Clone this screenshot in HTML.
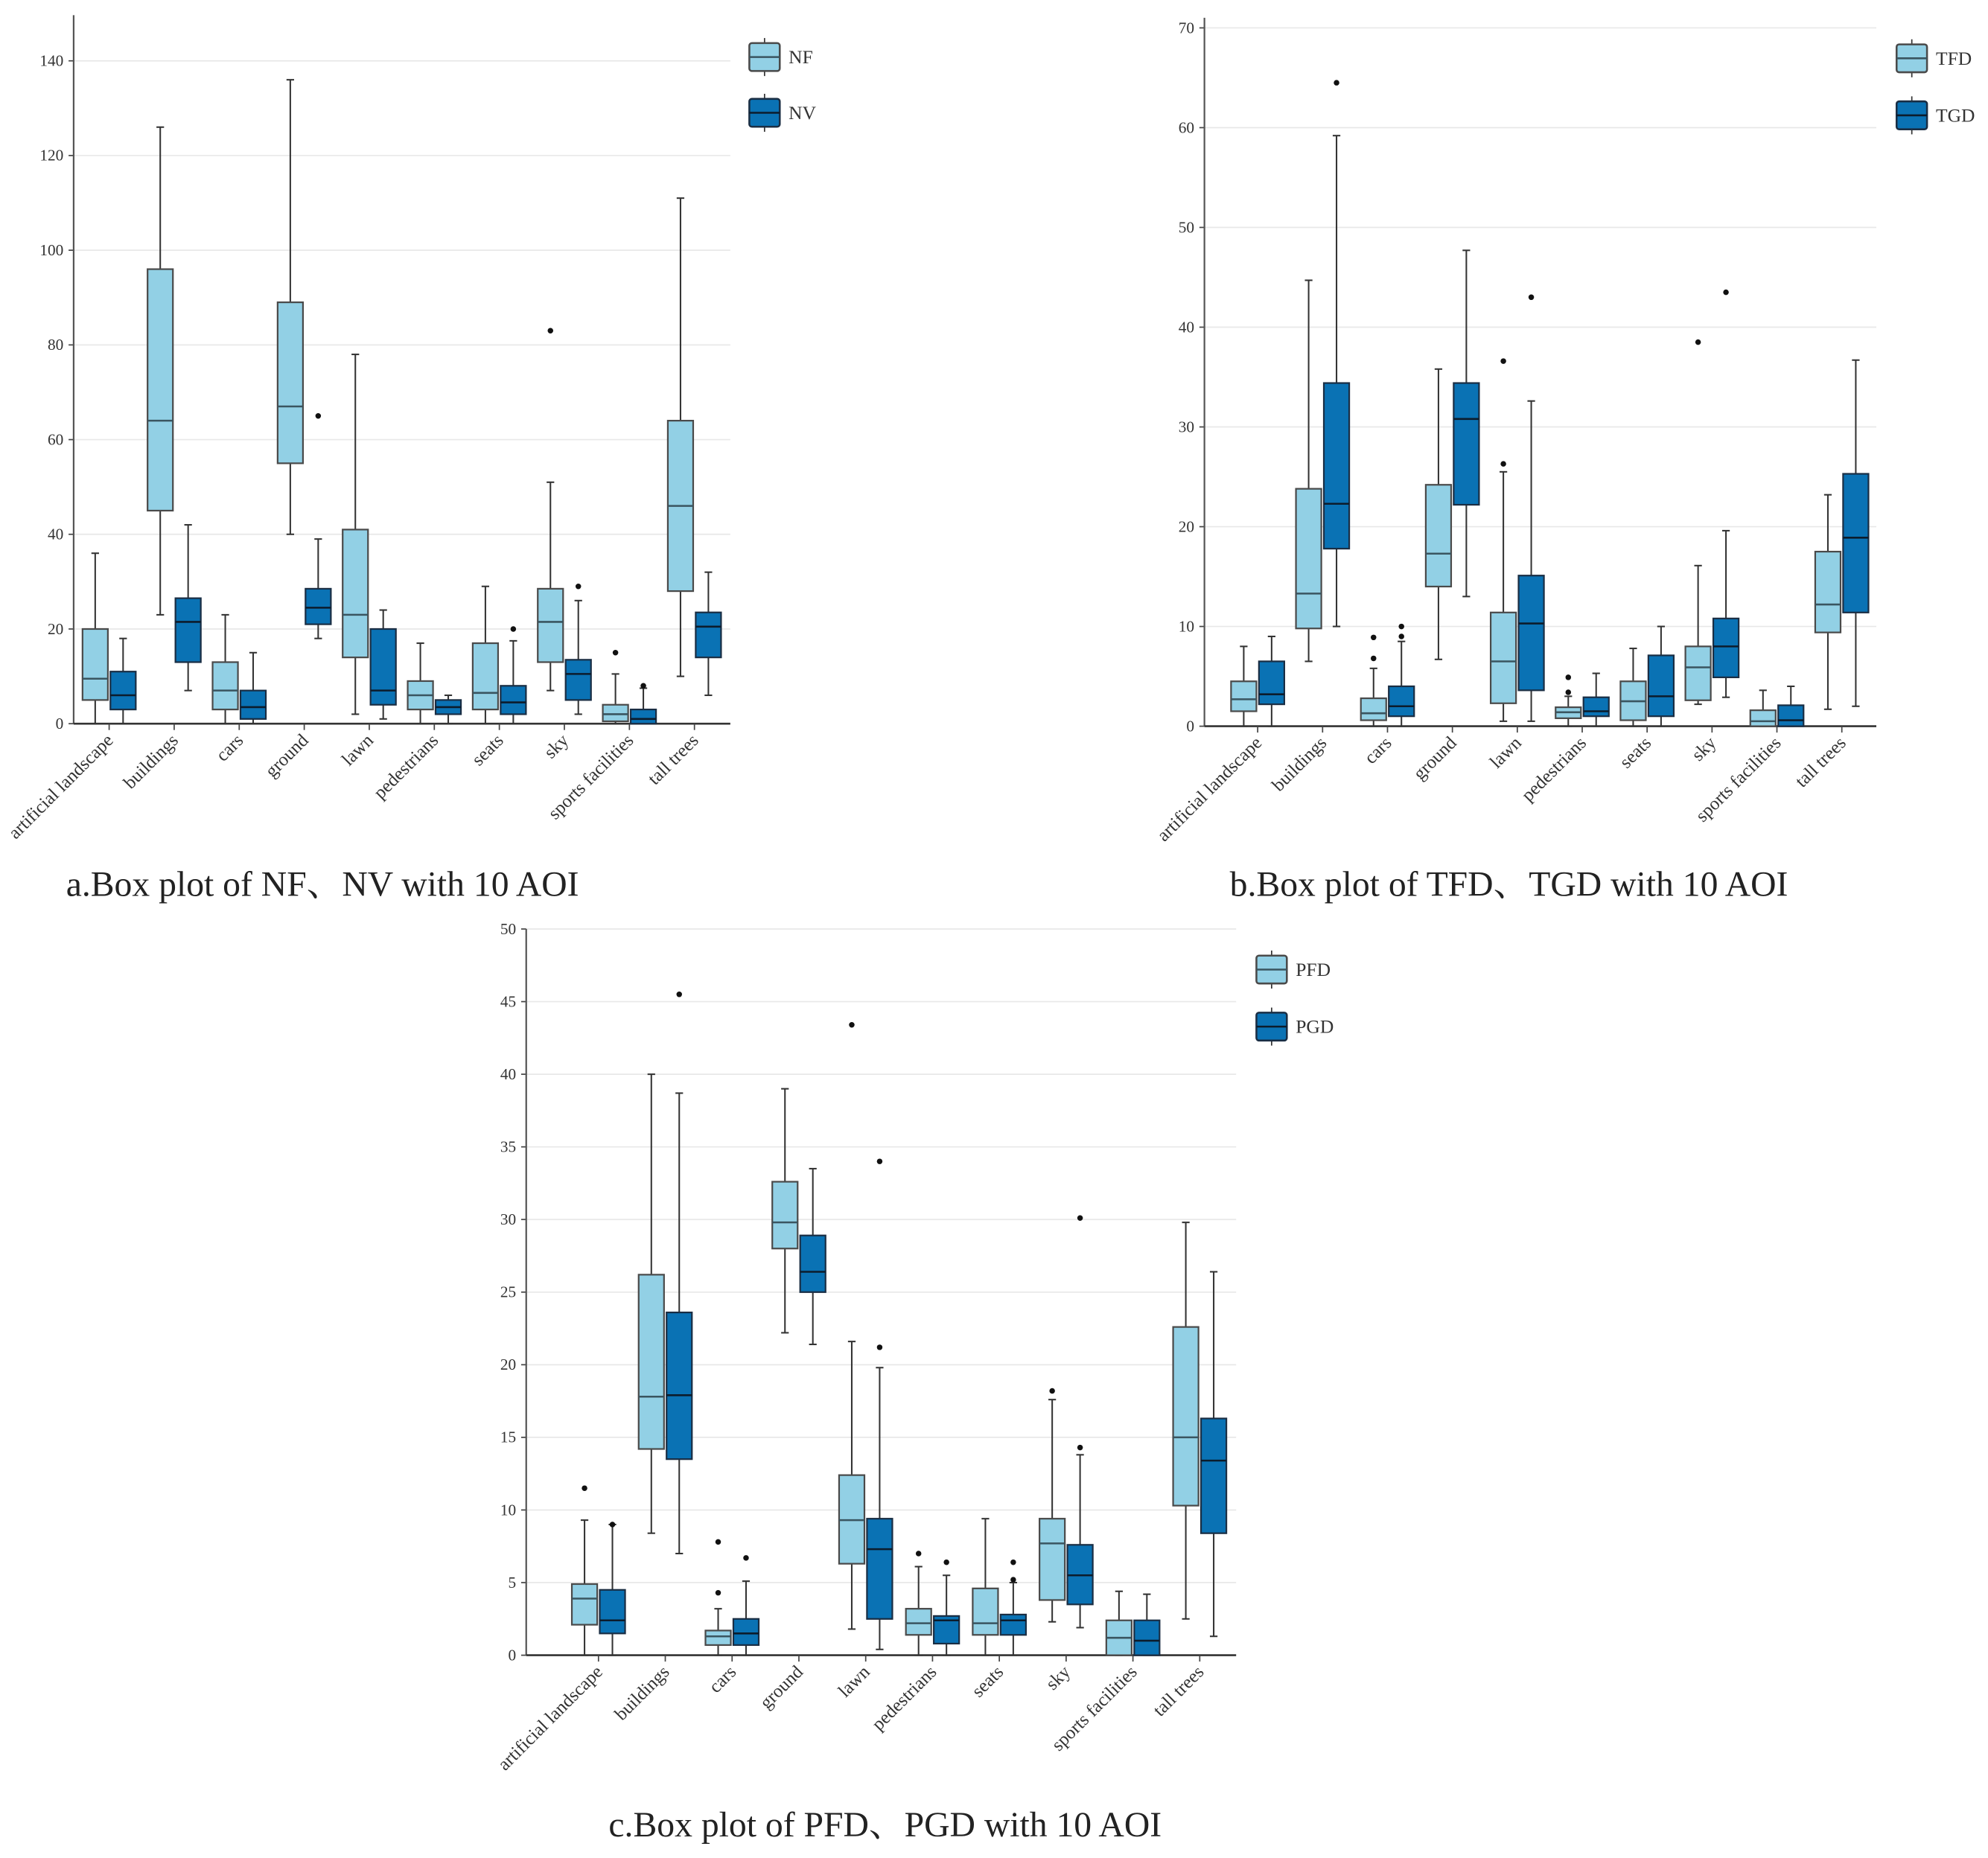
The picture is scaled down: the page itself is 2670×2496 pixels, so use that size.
<!DOCTYPE html>
<html><head><meta charset="utf-8"><style>
html,body{margin:0;padding:0;background:#fff;}
svg{display:block;font-family:"Liberation Serif",serif;}
</style></head><body>
<svg id="root" width="2670" height="2496" viewBox="0 0 1568 1466" xmlns="http://www.w3.org/2000/svg"></svg>
<script>
const categories = ["artificial landscape","buildings","cars","ground","lawn","pedestrians","seats","sky","sports facilities","tall trees"];
// each entry: [whiskerLow, q1, median, q3, whiskerHigh]
const nfStats = [[0,5,9.5,20,36],[23,45,64,96,126],[0,3,7,13,23],[40,55,67,89,136],[2,14,23,41,78],[0,3,6,9,17],[0,3,6.5,17,29],[7,13,21.5,28.5,51],[0,0.5,2,4,10.5],[10,28,46,64,111]];
const nfOut = [[],[],[],[],[],[],[],[83],[15],[]];
const nvStats = [[0,3,6,11,18],[7,13,21.5,26.5,42],[0,1,3.5,7,15],[18,21,24.5,28.5,39],[1,4,7,20,24],[0,2,3.5,5,6],[0,2,4.5,8,17.5],[2,5,10.5,13.5,26],[0,0,1,3,7.5],[6,14,20.5,23.5,32]];
const nvOut = [[],[],[],[65],[],[],[20],[29],[8],[]];
const tfdStats = [[0,1.5,2.7,4.5,8],[6.5,9.8,13.3,23.8,44.7],[0,0.6,1.3,2.8,5.8],[6.7,14,17.3,24.2,35.8],[0.5,2.3,6.5,11.4,25.5],[0,0.8,1.4,1.9,3],[0,0.6,2.5,4.5,7.8],[2.2,2.6,5.9,8,16.1],[0,0,0.5,1.6,3.6],[1.7,9.4,12.2,17.5,23.2]];
const tfdOut = [[],[],[6.8,8.9],[],[26.3,36.6],[3.4,4.9],[],[38.5],[],[]];
const tgdStats = [[0,2.2,3.2,6.5,9],[10,17.8,22.3,34.4,59.2],[0,1,2,4,8.5],[13,22.2,30.8,34.4,47.7],[0.5,3.6,10.3,15.1,32.6],[0,1,1.5,2.9,5.3],[0,1,3,7.1,10],[2.9,4.9,8,10.8,19.6],[0,0,0.6,2.1,4],[2,11.4,18.9,25.3,36.7]];
const tgdOut = [[],[64.5],[9,10],[],[43],[],[],[43.5],[],[]];
const pfdStats = [[0,2.1,3.9,4.9,9.3],[8.4,14.2,17.8,26.2,40],[0,0.7,1.3,1.7,3.2],[22.2,28,29.8,32.6,39],[1.8,6.3,9.3,12.4,21.6],[0,1.4,2.2,3.2,6.1],[0,1.4,2.2,4.6,9.4],[2.3,3.8,7.7,9.4,17.6],[0,0,1.2,2.4,4.4],[2.5,10.3,15,22.6,29.8]];
const pfdOut = [[11.5],[],[4.3,7.8],[],[43.4],[7],[],[18.2],[],[]];
const pgdStats = [[0,1.5,2.4,4.5,9],[7,13.5,17.9,23.6,38.7],[0,0.7,1.5,2.5,5.1],[21.4,25,26.4,28.9,33.5],[0.4,2.5,7.3,9.4,19.8],[0,0.8,2.4,2.7,5.5],[0,1.4,2.4,2.8,5],[1.9,3.5,5.5,7.6,13.8],[0,0,1,2.4,4.2],[1.3,8.4,13.4,16.3,26.4]];
const pgdOut = [[9],[45.5],[6.7],[],[21.2,34],[6.4],[5.2,6.4],[14.3,30.1],[],[]];
const ticksA = [0,20,40,60,80,100,120,140];
const ticksB = [0,10,20,30,40,50,60,70];
const ticksC = [0,5,10,15,20,25,30,35,40,45,50];

const NS="http://www.w3.org/2000/svg";
const root=document.getElementById('root');
function mk(tag,attrs,parent){const e=document.createElementNS(NS,tag);for(const k in attrs)e.setAttribute(k,attrs[k]);(parent||root).appendChild(e);return e;}

function chart(cfg){
  const g=mk('g',{});
  
  
  const y=v=>cfg.y0-(v-cfg.min)/(cfg.max-cfg.min)*(cfg.y0-cfg.yTop);
  const x=i=>cfg.c0+i*cfg.step;
  cfg.ticks.forEach(t=>{
    const gl=mk('line',{x1:cfg.ax,x2:cfg.axEnd,y1:y(t),y2:y(t),stroke:'#e8e8e8','stroke-width':1},g);
    
    
    mk('line',{x1:cfg.ax-4,x2:cfg.ax,y1:y(t),y2:y(t),stroke:'#444','stroke-width':1},g);
    const tl=mk('text',{x:cfg.ax-8,y:y(t)+4,'text-anchor':'end','font-size':12.5,fill:'#333'},g);
    tl.textContent=t;
    
    
  });
  const ya=mk('line',{x1:cfg.ax,x2:cfg.ax,y1:cfg.axTop,y2:cfg.y0,stroke:'#555','stroke-width':1.3},g);
  
  
  const xa=mk('line',{x1:cfg.ax,x2:cfg.axEnd,y1:cfg.y0,y2:cfg.y0,stroke:'#333','stroke-width':1.5},g);
  
  
  categories.forEach((c,i)=>{
    mk('line',{x1:x(i),x2:x(i),y1:cfg.y0,y2:cfg.y0+5,stroke:'#444'},g);
    const t=mk('text',{x:x(i)+4,y:cfg.y0+14,'text-anchor':'end','font-size':14.5,fill:'#333',transform:`rotate(-45 ${x(i)+4} ${cfg.y0+14})`},g);
    t.textContent=c;
    
    
  });
  const series=[{st:cfg.s1,out:cfg.o1,fill:'#92d0e5',stroke:'#4a4a4a',med:'#3a5560',off:-11,nm:cfg.n1},
                {st:cfg.s2,out:cfg.o2,fill:'#0a72b4',stroke:'#1a2e44',med:'#0c1c2c',off:11,nm:cfg.n2}];
  series.forEach(s=>{
    s.st.forEach((d,i)=>{
      const cx=x(i)+s.off, w=20;
      const bg=mk('g',{},g);
      
      
      mk('line',{x1:cx,x2:cx,y1:y(d[0]),y2:y(d[4]),stroke:'#333','stroke-width':1.2},bg);
      mk('line',{x1:cx-3,x2:cx+3,y1:y(d[0]),y2:y(d[0]),stroke:'#333','stroke-width':1.2},bg);
      mk('line',{x1:cx-3,x2:cx+3,y1:y(d[4]),y2:y(d[4]),stroke:'#333','stroke-width':1.2},bg);
      mk('rect',{x:cx-w/2,y:y(d[3]),width:w,height:Math.max(1,y(d[1])-y(d[3])),fill:s.fill,stroke:s.stroke,'stroke-width':1.3},bg);
      mk('line',{x1:cx-w/2,x2:cx+w/2,y1:y(d[2]),y2:y(d[2]),stroke:s.med,'stroke-width':1.5},bg);
      s.out[i].forEach(o=>{
        const p=mk('circle',{cx:cx,cy:y(o),r:2.2,fill:'#111'},bg);
        
        
      });
    });
  });
  [[cfg.n1,series[0],cfg.ly1],[cfg.n2,series[1],cfg.ly2]].forEach(([n,s,ly])=>{
    const lg=mk('g',{},g);
    
    
    mk('line',{x1:cfg.lx+12,x2:cfg.lx+12,y1:ly-15,y2:ly+15,stroke:'#333'},lg);
    mk('rect',{x:cfg.lx,y:ly-11,width:24,height:22,rx:2,fill:s.fill,stroke:s.stroke,'stroke-width':1.5},lg);
    mk('line',{x1:cfg.lx,x2:cfg.lx+24,y1:ly,y2:ly,stroke:s.med,'stroke-width':1.5},lg);
    const t=mk('text',{x:cfg.lx+31,y:ly+5,'font-size':15,fill:'#333'},lg);
    t.textContent=n;
  });
  const tt=mk('text',{x:cfg.tx,y:cfg.ty,'font-size':28,fill:'#222',style:'font-family:"Liberation Serif","Noto Serif CJK SC",serif'},g);
  tt.textContent=cfg.title;
  
  
}

chart({name:'chart-a-nf-nv',ax:58,axEnd:576,axTop:12,y0:571,yTop:48,min:0,max:140,ticks:ticksA,c0:86,step:51.3,
  s1:nfStats,o1:nfOut,s2:nvStats,o2:nvOut,n1:'NF',n2:'NV',lx:591,ly1:45,ly2:89,tx:52,ty:707,title:'a.Box plot of NF、NV with 10 AOI'});
chart({name:'chart-b-tfd-tgd',ax:950,axEnd:1480,axTop:14,y0:573,yTop:22,min:0,max:70,ticks:ticksB,c0:992,step:51.2,
  s1:tfdStats,o1:tfdOut,s2:tgdStats,o2:tgdOut,n1:'TFD',n2:'TGD',lx:1496,ly1:46,ly2:91,tx:970,ty:707,title:'b.Box plot of TFD、TGD with 10 AOI'});
chart({name:'chart-c-pfd-pgd',ax:415,axEnd:975,axTop:733,y0:1306,yTop:733,min:0,max:50,ticks:ticksC,c0:472,step:52.7,
  s1:pfdStats,o1:pfdOut,s2:pgdStats,o2:pgdOut,n1:'PFD',n2:'PGD',lx:991,ly1:765,ly2:810,tx:480,ty:1449,title:'c.Box plot of PFD、PGD with 10 AOI'});
</script>
</body></html>
